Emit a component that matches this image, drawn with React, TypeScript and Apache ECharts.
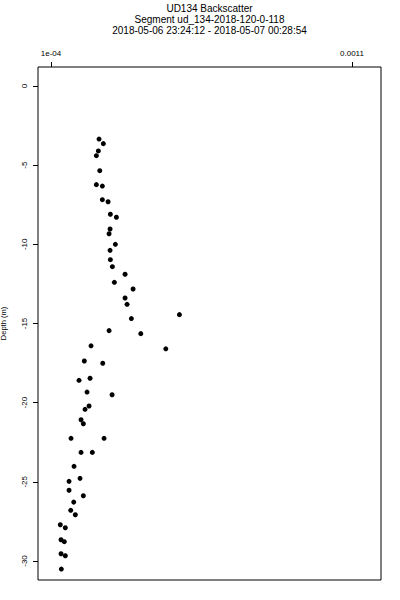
import React, { useEffect, useRef } from "react";
import * as echarts from "echarts";

const titleLines = [
  "UD134 Backscatter",
  "Segment ud_134-2018-120-0-118",
  "2018-05-06 23:24:12 - 2018-05-07 00:28:54",
];

const backscatter = [
  2.596e-4, 2.739e-4, 2.573e-4, 2.507e-4, 2.62e-4, 2.507e-4, 2.706e-4, 2.706e-4, 2.896e-4, 2.972e-4,
  3.172e-4, 2.962e-4, 2.929e-4, 3.138e-4, 2.962e-4, 2.972e-4, 3.039e-4, 3.461e-4, 3.105e-4, 3.727e-4,
  3.461e-4, 3.527e-4, 5.267e-4, 3.67e-4, 2.929e-4, 3.983e-4, 2.33e-4, 4.814e-4, 2.107e-4, 2.719e-4,
  1.931e-4, 2.297e-4, 2.197e-4, 3.029e-4, 2.264e-4, 2.131e-4, 1.998e-4, 2.074e-4, 1.665e-4, 2.763e-4,
  1.998e-4, 2.373e-4, 1.765e-4, 1.964e-4, 1.599e-4, 1.599e-4, 2.074e-4, 1.755e-4, 1.655e-4, 1.808e-4,
  1.309e-4, 1.476e-4, 1.333e-4, 1.442e-4, 1.333e-4, 1.476e-4, 1.343e-4,
];

const depth = [
  -3.35, -3.64, -4.1, -4.4, -5.35, -6.23, -6.32, -7.18, -7.31, -8.1,
  -8.29, -9.03, -9.33, -10.0, -10.38, -10.97, -11.41, -11.89, -12.4, -12.82,
  -13.39, -13.79, -14.44, -14.69, -15.45, -15.64, -16.41, -16.6, -17.37, -17.51,
  -18.59, -18.46, -19.33, -19.5, -20.21, -20.42, -21.08, -21.33, -22.25, -22.25,
  -23.14, -23.14, -24.02, -24.78, -24.97, -25.53, -25.88, -26.28, -26.8, -27.08,
  -27.71, -27.9, -28.66, -28.78, -29.54, -29.67, -30.51,
];

const xTickValues = [1e-4, 0.0011];
const xTickLabels = ["1e-04", "0.0011"];
const yTickValues = [0, -5, -10, -15, -20, -25, -30];

const FONT = "'Liberation Sans', Arial, Helvetica, sans-serif";

export default function App() {
  const ref = useRef<HTMLDivElement>(null);
  useEffect(() => {
    if (!ref.current) return;
    const chart = echarts.init(ref.current, null, { renderer: "svg" });
    const data = backscatter.map((v, i) => [v, depth[i]]);
    const plotCenter = (38 + 381) / 2;
    chart.setOption({
      animation: false,
      backgroundColor: "#ffffff",
      textStyle: { fontFamily: FONT },
      grid: {
        left: 38,
        right: 19,
        top: 67,
        height: 513,
        show: true,
        borderColor: "#000",
        borderWidth: 1,
        backgroundColor: "transparent",
        containLabel: false,
        outerBoundsMode: "none",
      },
      graphic: titleLines.map((t, i) => ({
        type: "text",
        x: plotCenter,
        y: 8 + i * 11,
        style: {
          text: t,
          fontSize: 10,
          fontFamily: FONT,
          fill: "#000",
          textAlign: "center",
          textVerticalAlign: "middle",
        },
      })),
      xAxis: {
        type: "value",
        position: "top",
        min: 5.677e-5,
        max: 1.19644e-3,
        axisLine: { show: false, onZero: false },
        splitLine: { show: false },
        axisTick: {
          show: true,
          inside: false,
          length: 5,
          customValues: xTickValues,
          lineStyle: { color: "#000", width: 1 },
        },
        axisLabel: {
          show: true,
          customValues: xTickValues,
          margin: 10,
          fontSize: 8,
          fontFamily: FONT,
          color: "#000",
          formatter: (v: number) => {
            const idx = xTickValues.findIndex((t) => Math.abs(t - v) < 1e-9);
            return idx >= 0 ? xTickLabels[idx] : "";
          },
        },
      },
      yAxis: {
        type: "value",
        min: -31.2,
        max: 1.2,
        name: "Depth (m)",
        nameLocation: "middle",
        nameGap: 31,
        nameTextStyle: { fontSize: 7.5, color: "#000", fontFamily: FONT },
        axisLine: { show: false, onZero: false },
        splitLine: { show: false },
        axisTick: {
          show: true,
          inside: false,
          length: 5,
          customValues: yTickValues,
          lineStyle: { color: "#000", width: 1 },
        },
        axisLabel: {
          show: true,
          customValues: yTickValues,
          rotate: 90,
          margin: 10,
          fontSize: 8,
          fontFamily: FONT,
          color: "#000",
          formatter: (v: number) => String(v),
        },
      },
      series: [
        {
          type: "scatter",
          data,
          symbol: "circle",
          symbolSize: 5,
          itemStyle: { color: "#000", opacity: 1 },
          silent: true,
        },
      ],
    });
    return () => chart.dispose();
  }, []);
  return (
    <div
      ref={ref}
      style={{ position: "absolute", left: 0, top: 0, width: 400, height: 600 }}
    />
  );
}
